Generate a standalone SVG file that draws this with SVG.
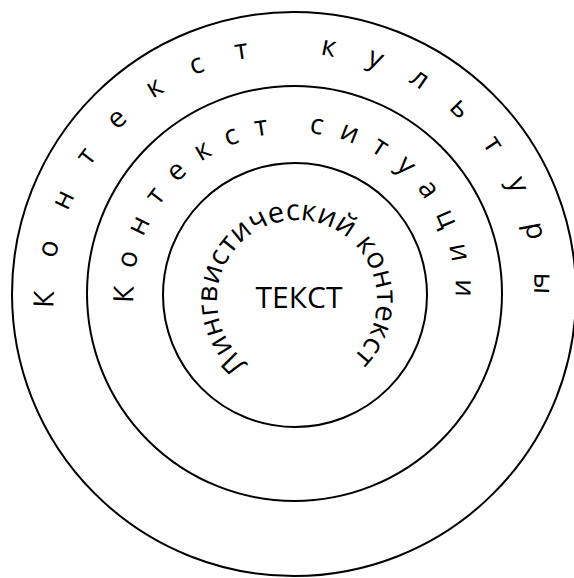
<svg xmlns="http://www.w3.org/2000/svg" xmlns:xlink="http://www.w3.org/1999/xlink" width="574" height="578" viewBox="0 0 574 578">
  <style>
    .ring { fill: none; stroke: #000; stroke-width: 2; }
    .lbl { font-family: "Open Sans", "Liberation Sans", sans-serif; fill: #000; }
    .wide { font-size: 28px; }
    .inner { font-size: 29px; }
    .core { font-size: 30px; }
  </style>
  <defs>
    <path id="p-outer" d="M 294 534 A 240 240 0 1 1 294 54 A 240 240 0 1 1 294 534"/>
    <path id="p-middle" d="M 294.5 454.5 A 161 161 0 1 1 294.5 132.5 A 161 161 0 1 1 294.5 454.5"/>
    <path id="p-inner" d="M 297 380 A 80 80 0 1 1 297 220 A 80 80 0 1 1 297 380"/>
  </defs>
  <rect width="574" height="578" fill="#fff"/>
  <g id="ring-culture">
    <circle class="ring" cx="294" cy="294" r="282"/>
    <text class="lbl wide" letter-spacing="32"><textPath xlink:href="#p-outer" href="#p-outer" startOffset="362.7">Контекст культуры</textPath></text>
  </g>
  <g id="ring-situation">
    <circle class="ring" cx="294.5" cy="293.5" r="207.5"/>
    <text class="lbl wide" letter-spacing="16.4"><textPath xlink:href="#p-middle" href="#p-middle" startOffset="243.2">Контекст ситуации</textPath></text>
  </g>
  <g id="ring-linguistic">
    <circle class="ring" cx="295" cy="295" r="132"/>
    <text class="lbl inner" letter-spacing="0.3"><textPath xlink:href="#p-inner" href="#p-inner" startOffset="52">Лингвистический контекст</textPath></text>
  </g>
  <g id="core-text">
    <text class="lbl core" x="299" y="308" text-anchor="middle">ТЕКСТ</text>
  </g>
  <g id="connectors"/>
</svg>
